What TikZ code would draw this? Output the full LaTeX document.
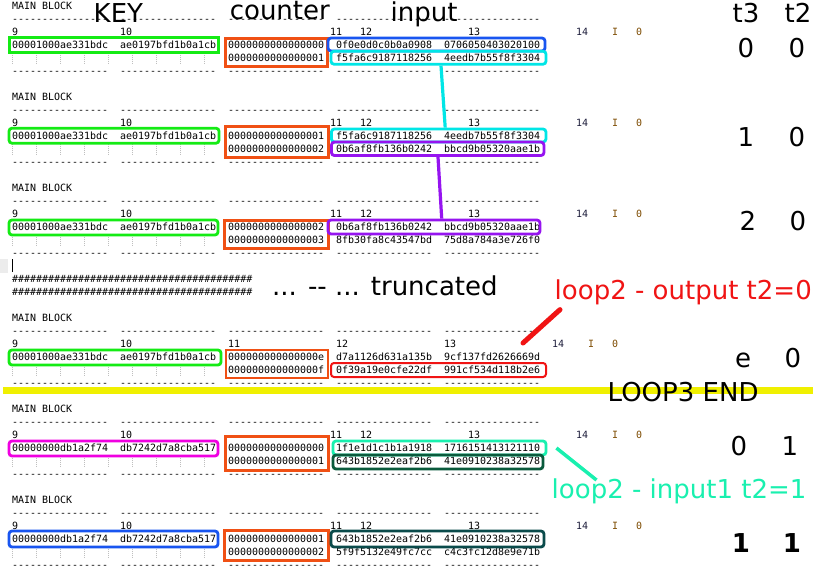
\documentclass[tikz,border=0pt]{standalone}
\usepackage{fontspec}
\setmonofont{DejaVu Sans Mono}
\newfontfamily\lblfont{DejaVu Sans}
\usetikzlibrary{positioning}

\definecolor{keygreen}{RGB}{20,235,20}
\definecolor{ctrorange}{RGB}{240,80,20}
\definecolor{inblue}{RGB}{25,85,240}
\definecolor{incyan}{RGB}{0,230,230}
\definecolor{inpurple}{RGB}{150,20,240}
\definecolor{outred}{RGB}{240,20,20}
\definecolor{keymagenta}{RGB}{240,0,225}
\definecolor{inspring}{RGB}{25,240,175}
\definecolor{indkgreen}{RGB}{10,90,60}
\definecolor{indkteal}{RGB}{10,75,75}
\definecolor{bandyellow}{RGB}{240,240,0}
\definecolor{flagbrown}{RGB}{125,75,0}
\definecolor{flagnavy}{RGB}{30,30,60}

\newcommand\hashten{\#\#\#\#\#\#\#\#\#\#}

\tikzset{
  term/.style = {font=\ttfamily\fontsize{9.97}{13}\selectfont, inner sep=0pt, anchor=base west},
  big/.style = {font=\lblfont\fontsize{26}{30}\selectfont, inner sep=0pt, anchor=base west},
  val/.style = {big, anchor=base},
  hlbox/.style = {draw, line width=3pt, inner sep=0pt, minimum height=14pt},
  rhlbox/.style = {hlbox, line width=2.8pt, rounded corners=3pt},
  tick/.style = {gray!50, line width=.8pt, dash pattern=on 1pt off 1pt},
  link/.style = {line width=3.2pt}
}

\begin{document}
\begin{tikzpicture}[x=1pt,y=-1pt]
\useasboundingbox (0,0) rectangle (820,576);
\fill[white] (0,0) rectangle (820,576);

% Terminal frame of each block
\foreach \b/\ha/\hb/\hc/\hd in {0/330/360/468/576, 7/330/360/468/576, 14/330/360/468/576,
    24/228/336/444/552, 31/330/360/468/576, 38/330/360/468/576}{
  \node[term] (mb\b) at (12,9+13*\b) {MAIN BLOCK};
  \foreach \c in {12,120,228,336,444}{
    \node[term] (dt\b-\c) at (\c,22+13*\b) {----------------};
    \node[term] (db\b-\c) at (\c,74+13*\b) {----------------};
  }
  \node[term] (h\b-a) at (12,35+13*\b) {9};
  \node[term] (h\b-b) at (120,35+13*\b) {10};
  \node[term] (h\b-c) at (\ha,35+13*\b) {11};
  \node[term] (h\b-d) at (\hb,35+13*\b) {12};
  \node[term] (h\b-e) at (\hc,35+13*\b) {13};
  \node[term, text=flagnavy] (h\b-f) at (\hd,35+13*\b) {14};
  \node[term, text=flagbrown] (h\b-g) at (\hd+36,35+13*\b) {I};
  \node[term, text=flagbrown] (h\b-h) at (\hd+60,35+13*\b) {0};
  \foreach \t in {12,36,...,204}
    \draw[tick] (\t+.5,52.5+13*\b) -- (\t+.5,64.5+13*\b);
}

% KEY rows
\foreach \l/\ka/\kb in {3/00001000ae331bdc/ae0197bfd1b0a1cb, 10/00001000ae331bdc/ae0197bfd1b0a1cb,
    17/00001000ae331bdc/ae0197bfd1b0a1cb, 27/00001000ae331bdc/ae0197bfd1b0a1cb,
    34/00000000db1a2f74/db7242d7a8cba517, 41/00000000db1a2f74/db7242d7a8cba517}{
  \node[term] (ka\l) at (12,9+13*\l) {\ka};
  \node[term] (kb\l) at (120,9+13*\l) {\kb};
}

% counter and input rows
\foreach \l/\cv/\pv/\qv in {3/0000000000000000/0f0e0d0c0b0a0908/0706050403020100,
    4/0000000000000001/f5fa6c9187118256/4eedb7b55f8f3304,
    10/0000000000000001/f5fa6c9187118256/4eedb7b55f8f3304,
    11/0000000000000002/0b6af8fb136b0242/bbcd9b05320aae1b,
    17/0000000000000002/0b6af8fb136b0242/bbcd9b05320aae1b,
    18/0000000000000003/8fb30fa8c43547bd/75d8a784a3e726f0,
    27/000000000000000e/d7a1126d631a135b/9cf137fd2626669d,
    28/000000000000000f/0f39a19e0cfe22df/991cf534d118b2e6,
    34/0000000000000000/1f1e1d1c1b1a1918/1716151413121110,
    35/0000000000000001/643b1852e2eaf2b6/41e0910238a32578,
    41/0000000000000001/643b1852e2eaf2b6/41e0910238a32578,
    42/0000000000000002/5f9f5132e49fc7cc/c4c3fc12d8e9e71b}{
  \node[term] (c\l) at (228,9+13*\l) {\cv};
  \node[term] (p\l) at (336,9+13*\l) {\pv};
  \node[term] (q\l) at (444,9+13*\l) {\qv};
}

% cursor and truncation marks
\fill[gray!15] (0,259) rectangle (8,273);
\draw[line width=1pt] (12.5,259) -- (12.5,272);
\node[term] (hashA) at (12,282) {\hashten\hashten\hashten\hashten};
\node[term] (hashB) at (12,295) {\hashten\hashten\hashten\hashten};

% Boxes
\node[hlbox, draw=keygreen, minimum width=209pt, minimum height=15pt] (keyA) at (113.5,44.5) {};
\node[hlbox, draw=ctrorange, minimum width=102pt, minimum height=28pt] (ctrA) at (276.5,52) {};
\node[rhlbox, draw=inblue, minimum width=217pt, minimum height=13pt] (inA1) at (436.5,44.5) {};
\node[rhlbox, draw=incyan, minimum width=215pt, minimum height=13pt] (inA2) at (438.5,57.7) {};

\node[rhlbox, draw=keygreen, minimum width=210pt, minimum height=15pt] (keyB) at (114,135.7) {};
\node[hlbox, draw=ctrorange, minimum width=103pt, minimum height=31pt] (ctrB) at (276.5,141.5) {};
\node[rhlbox, draw=incyan, minimum width=214.5pt, minimum height=13pt] (inB1) at (438.7,135.5) {};
\node[rhlbox, draw=inpurple, minimum width=212.5pt, minimum height=13.5pt] (inB2) at (437.7,148.8) {};

\node[rhlbox, draw=keygreen, minimum width=209pt, minimum height=15pt] (keyC) at (113.5,227.5) {};
\node[hlbox, draw=ctrorange, minimum width=103.5pt, minimum height=28pt] (ctrC) at (276.3,234) {};
\node[rhlbox, draw=inpurple, minimum width=212pt, minimum height=14pt] (inC1) at (434,227) {};

\node[rhlbox, draw=keygreen, minimum width=212pt, minimum height=15pt] (keyD) at (115,357.5) {};
\node[hlbox, draw=ctrorange, line width=2pt, minimum width=102pt, minimum height=28pt] (ctrD) at (277,364) {};
\node[rhlbox, draw=outred, line width=2pt, minimum width=215pt, minimum height=14pt] (inD2) at (438.5,370) {};

\node[rhlbox, draw=keymagenta, minimum width=209pt, minimum height=15pt] (keyE) at (113.5,448.5) {};
\node[hlbox, draw=ctrorange, minimum width=103pt, minimum height=34pt] (ctrE) at (276.5,453) {};
\node[rhlbox, draw=inspring, minimum width=213pt, minimum height=14pt] (inE1) at (439.5,448) {};
\node[rhlbox, draw=indkgreen, minimum width=210pt, minimum height=14pt] (inE2) at (438,462) {};

\node[rhlbox, draw=inblue, minimum width=209pt, minimum height=16pt] (keyF) at (113.5,539) {};
\node[hlbox, draw=ctrorange, minimum width=104pt, minimum height=30pt] (ctrF) at (276,545) {};
\node[rhlbox, draw=indkteal, minimum width=213pt, minimum height=16pt] (inF1) at (437.5,539) {};

% Links between blocks
\draw[link, incyan] ([xshift=2.5pt]inA2.south) -- ([xshift=6.5pt]inB1.north);
\draw[link, inpurple] ([xshift=.3pt]inB2.south) -- ([xshift=7.7pt]inC1.north);

% End of loop 3
\fill[bandyellow] (3,386.5) rectangle (813,394);

% Labels
\node[big] (keylbl) at (93.5,22) {KEY};
\node[big] (ctrlbl) at (229.6,19) {counter};
\node[big] (inlbl) at (390.5,21) {input};
\node[val] (t3lbl) at (746,22.5) {t3};
\node[val] (t2lbl) at (798,22.5) {t2};
\foreach \y/\u/\v/\xu/\xv [count=\i] in {57.5/0/0/746/797, 146.5/1/0/746/797, 230.5/2/0/748/798,
    367/e/0/743/793, 455.5/0/1/739/790}{
  \node[val] (t3v\i) at (\xu,\y) {\u};
  \node[val] (t2v\i) at (\xv,\y) {\v};
}
\node[val, font=\lblfont\bfseries\fontsize{26}{30}\selectfont] (t3v6) at (741,552.5) {1};
\node[val, font=\lblfont\bfseries\fontsize{26}{30}\selectfont] (t2v6) at (792,552.5) {1};
\node[big] (trunc) at (272,295) {... -\kern0pt- ... truncated};
\node[big] (endlbl) at (607.5,401.5) {LOOP3 END};
\node[big, text=outred] (outlbl) at (554.5,299) {loop2 - output t2=0};
\node[big, text=inspring] (in1lbl) at (551.5,498) {loop2 - input1 t2=1};

% Pointers
\coordinate (outtip) at (523,343);
\draw[outred, line width=5pt, line cap=round] (outtip) -- ([xshift=5.5pt,yshift=-5pt]outlbl.south west);
\draw[inspring, line width=3.5pt] ([xshift=9pt]inE1.east) -- ([xshift=45pt,yshift=-2pt]in1lbl.north west);
\end{tikzpicture}
\end{document}
